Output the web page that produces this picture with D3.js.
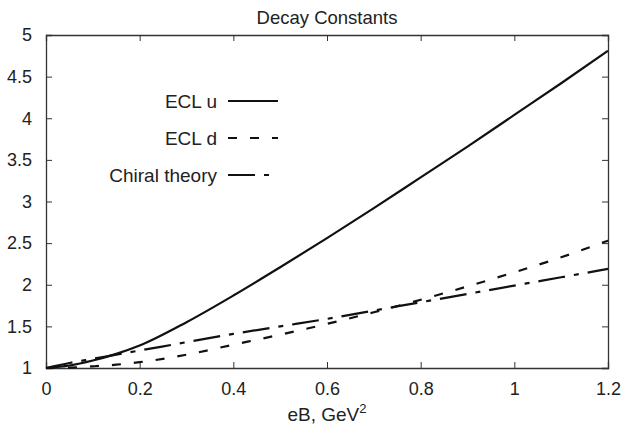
<!DOCTYPE html>
<html><head><meta charset="utf-8">
<script src="https://cdn.jsdelivr.net/npm/d3@7"></script>
<style>body{margin:0;background:#fff}svg{display:block}text{font-family:"Liberation Sans",Arial,sans-serif;fill:#222}</style>
</head><body>
<script>
const xValues = [0, 0.05, 0.1, 0.15, 0.2, 0.3, 0.4, 0.5, 0.6, 0.7, 0.8, 0.9, 1.0, 1.1, 1.2];
const eclU    = [1, 1.03, 1.09, 1.17, 1.27, 1.55, 1.87, 2.21, 2.56, 2.92, 3.29, 3.66, 4.04, 4.42, 4.81];
const eclD    = [1, 1.005, 1.02, 1.04, 1.07, 1.16, 1.28, 1.40, 1.53, 1.67, 1.82, 1.98, 2.15, 2.33, 2.53];
const chiral  = [1, 1.06, 1.11, 1.16, 1.21, 1.31, 1.41, 1.50, 1.59, 1.69, 1.79, 1.89, 1.99, 2.09, 2.19];
const seriesNames = ["ECL u", "ECL d", "Chiral theory"];
const xTicks = [0, 0.2, 0.4, 0.6, 0.8, 1, 1.2];
const yTicks = [1, 1.5, 2, 2.5, 3, 3.5, 4, 4.5, 5];

const W = 624, H = 432;
const m = {left: 46, right: 16, top: 35, bottom: 64};
const svg = d3.select("body").append("svg").attr("width", W).attr("height", H);
const x = d3.scaleLinear().domain([0, 1.2]).range([m.left, W - m.right]);
const y = d3.scaleLinear().domain([1, 5]).range([H - m.bottom, m.top]);
const fs = 18, tl = 6;

// axes with inward ticks
const axB = svg.append("g").attr("transform", `translate(0,${H - m.bottom})`)
  .call(d3.axisBottom(x).tickValues(xTicks).tickSize(-tl).tickPadding(tl + 8).tickFormat(d3.format("~g")));
const axT = svg.append("g").attr("transform", `translate(0,${m.top})`)
  .call(d3.axisTop(x).tickValues(xTicks).tickSize(-tl).tickFormat(""));
const axL = svg.append("g").attr("transform", `translate(${m.left},0)`)
  .call(d3.axisLeft(y).tickValues(yTicks).tickSize(-tl).tickPadding(tl + 8).tickFormat(d3.format("~g")));
const axR = svg.append("g").attr("transform", `translate(${W - m.right},0)`)
  .call(d3.axisRight(y).tickValues(yTicks).tickSize(-tl).tickFormat(""));
[axB, axT, axL, axR].forEach(g => {
  g.select(".domain").attr("stroke", "#333").attr("stroke-width", 1.3);
  g.selectAll(".tick line").attr("stroke", "#333").attr("stroke-width", 1);
  g.selectAll("text").attr("font-size", fs).attr("font-family", '"Liberation Sans",Arial,sans-serif').attr("fill", "#222");
});

// title & labels
svg.append("text").attr("x", (x(0) + x(1.2)) / 2).attr("y", 24).attr("text-anchor", "middle")
  .attr("font-size", 18.5).text("Decay Constants");
const xl = svg.append("text").attr("x", (x(0) + x(1.2)) / 2).attr("y", 421).attr("text-anchor", "middle").attr("font-size", 19);
xl.append("tspan").text("eB, GeV");
xl.append("tspan").attr("dy", -8).attr("font-size", 13).text("2");

// lines
const dashes = [null, "9,13", "27,9,5,9"];
const data = [eclU, eclD, chiral];
const line = d3.line().x((d, i) => x(xValues[i])).y(d => y(d)).curve(d3.curveMonotoneX);
data.forEach((s, k) => {
  svg.append("path").datum(s).attr("d", line).attr("fill", "none")
    .attr("stroke", "#111").attr("stroke-width", 2.2)
    .attr("stroke-dasharray", dashes[k]);
});

// legend
const legY = [101, 138, 175];
seriesNames.forEach((n, k) => {
  svg.append("text").attr("x", 217).attr("y", legY[k]).attr("dy", "0.35em")
    .attr("text-anchor", "end").attr("font-size", 19).text(n);
  svg.append("line").attr("x1", 228).attr("x2", 278).attr("y1", legY[k]).attr("y2", legY[k])
    .attr("stroke", "#111").attr("stroke-width", 2.2).attr("stroke-dasharray", dashes[k]);
});
</script>
</body></html>
